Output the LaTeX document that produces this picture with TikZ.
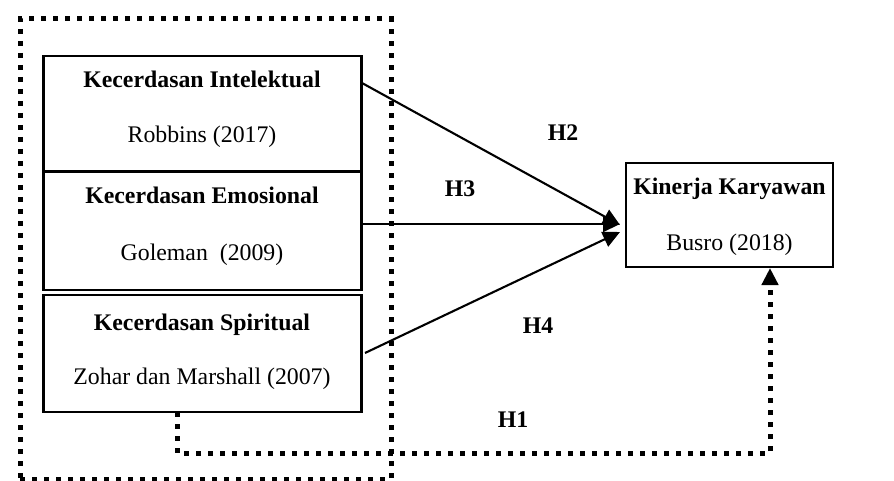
\documentclass[tikz,border=0pt]{standalone}
\usepackage{fontspec}
\setmainfont{Liberation Serif}
\usetikzlibrary{arrows.meta}
\begin{document}
\begin{tikzpicture}[x=1pt,y=-1pt,
  box/.style={draw, line width=2.2pt, inner sep=0pt},
  ttl/.style={anchor=base, font=\fontsize{23.8}{28}\selectfont\bfseries},
  cite/.style={anchor=base, font=\fontsize{23.8}{28}\selectfont},
  hyp/.style={font=\fontsize{23.8}{28}\selectfont\bfseries},
  dotline/.style={line width=5pt, dash pattern=on 5pt off 7pt},
  arr/.style={line width=2.1pt, -{Triangle[length=17pt,width=16pt]}},
  dotarr/.style={dotline, -{Triangle[length=17pt,width=16pt]}}]
\useasboundingbox (0,0) rectangle (894,481);
% outer dotted group
\node[dotline, draw, minimum width=371pt, minimum height=460pt] (grp) at (205.5,249) {};
% boxes
\node[box, minimum width=318pt, minimum height=115pt] (b1) at (202.5,113.5) {};
\node[box, minimum width=318pt, minimum height=118pt] (b2) at (202.5,231) {};
\node[box, minimum width=318pt, minimum height=117pt] (b3) at (202.5,353.5) {};
\node[box, minimum width=207pt, minimum height=104pt] (k) at (729.5,215) {};
% texts
\node[ttl] (t1) at (202,88) {Kecerdasan Intelektual};
\node[cite] (c1) at (202,143) {Robbins (2017)};
\node[ttl] (t2) at (202,204) {Kecerdasan Emosional};
\node[cite] (c2) at (202,260) {Goleman\ \ (2009)};
\node[ttl] (t3) at (202,330) {Kecerdasan Spiritual};
\node[cite] (c3) at (202,384) {Zohar dan Marshall (2007)};
\node[ttl] (t4) at (729.5,195) {Kinerja Karyawan};
\node[cite] (c4) at (729.5,250) {Busro (2018)};
% hypothesis labels
\node[hyp] (h2) at (563,133) {H2};
\node[hyp] (h3) at (460,189) {H3};
\node[hyp] (h4) at (538,326) {H4};
\node[hyp] (h1) at (513,420) {H1};
% connector points
\coordinate (s1) at (362,83);
\coordinate (s2) at (362,224);
\coordinate (s3) at (365,353);
\coordinate (e1) at (620,225);
\coordinate (e2) at (620,224);
\coordinate (e3) at (620,232);
\draw[arr] (s1) -- (e1);
\draw[arr] (s2) -- (e2);
\draw[arr] (s3) -- (e3);
% H1 dotted path
\coordinate (d0) at (177,412);
\coordinate (d1) at (177,453);
\coordinate (d2) at (770,453);
\coordinate (d3) at (770,268);
\draw[dotarr] (d0) -- (d1) -- (d2) -- (d3);
\end{tikzpicture}
\end{document}
